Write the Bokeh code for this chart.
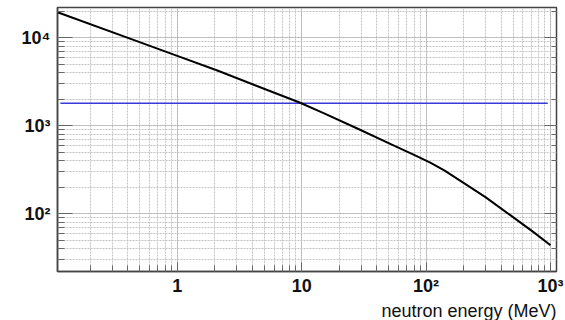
from bokeh.plotting import figure
from bokeh.models import Range1d, LogAxis, Title, CustomJSTickFormatter
from bokeh.embed import file_html
from bokeh.resources import INLINE

# neutron energy (MeV) and curve values
energy = [0.109, 0.45, 1.0, 2.1, 9.5, 15, 28, 52, 80, 108, 140, 200, 300, 475, 730, 1000]
flux = [19600, 9450, 6250, 4250, 1850, 1390, 930, 619, 465, 380, 310, 224, 154, 96, 61.5, 43.5]

# flat reference line
ref_energy = [0.115, 950]
ref_flux = [1800, 1800]

x_tick_labels = {1: "1", 10: "10", 100: "10²", 1000: "10³"}
y_tick_labels = {100: "10²", 1000: "10³", 10000: "10⁴"}
x_title = "neutron energy (MeV)"

FONT = "Liberation Sans"

p = figure(width=565, height=320,
           x_axis_type="log", y_axis_type="log",
           x_range=Range1d(0.109, 1117), y_range=Range1d(21.9, 22200),
           output_backend="svg", toolbar_location=None,
           min_border_left=57, min_border_top=7, min_border_right=9, min_border_bottom=0)

p.outline_line_color = "#444444"
p.outline_line_width = 1.5

for g in (p.xgrid, p.ygrid):
    g.grid_line_color = "#b4b4b4"
    g.grid_line_dash = "2 1"
    g.grid_line_width = 1
    g.minor_grid_line_color = "#c4c4c4"
    g.minor_grid_line_dash = "2 1"
    g.minor_grid_line_width = 1

xa = p.xaxis[0]
xa.major_label_overrides = x_tick_labels
xa.major_tick_in = 9
xa.major_tick_out = 0
xa.minor_tick_in = 6
xa.minor_tick_out = 0
xa.major_label_standoff = 4

ya = p.yaxis[0]
ya.major_label_overrides = y_tick_labels
ya.major_tick_in = 15
ya.major_tick_out = 0
ya.minor_tick_in = 7
ya.minor_tick_out = 0
ya.major_label_standoff = 7

for a in (xa, ya):
    a.axis_line_color = "#444444"
    a.axis_line_width = 1.5
    a.major_tick_line_color = "#666666"
    a.minor_tick_line_color = "#666666"
    a.major_label_text_font = FONT
    a.major_label_text_font_size = "18px"
    a.major_label_text_font_style = "bold"
    a.major_label_text_color = "#111111"

ra = LogAxis(formatter=CustomJSTickFormatter(code="return ''"))
ra.axis_line_color = None
ra.major_tick_in = 12
ra.major_tick_out = 0
ra.minor_tick_in = 5
ra.minor_tick_out = 0
ra.major_label_standoff = 0
ra.major_tick_line_color = "#666666"
ra.minor_tick_line_color = "#666666"
p.add_layout(ra, "right")

p.line(ref_energy, ref_flux, line_color="#3a3ad8", line_width=1.5)
p.line(energy, flux, line_color="black", line_width=2, line_join="round")

p.add_layout(Title(text=x_title, align="right",
                   text_font=FONT, text_font_size="18px",
                   text_font_style="normal", text_color="#111111",
                   standoff=0), "below")

open("out.html", "w").write(file_html(p, INLINE))
